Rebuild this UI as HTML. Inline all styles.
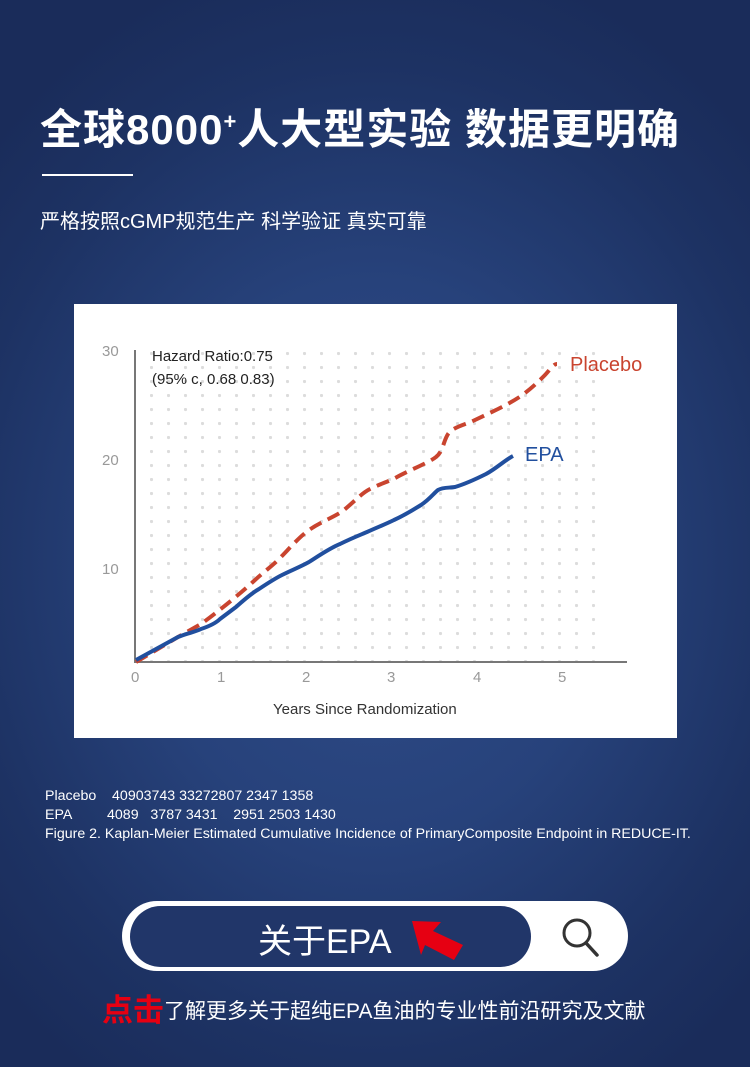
<!DOCTYPE html>
<html><head><meta charset="utf-8"><style>
html,body{margin:0;padding:0}
body{width:750px;height:1067px;position:relative;overflow:hidden;font-family:"Liberation Sans","Noto Sans CJK SC",sans-serif;
background:radial-gradient(ellipse 520px 620px at 375px 560px,#2f4c88 0%,#27427b 45%,#1d3263 80%,#1a2c5a 100%);color:#fff}
.t{position:absolute;left:40px;top:96px;font-size:42px;font-weight:bold;letter-spacing:1px;white-space:nowrap}
.ln{position:absolute;left:42px;top:174px;width:91px;height:2px;background:#fff}
.st{position:absolute;left:40px;top:205px;font-size:20px;white-space:nowrap}
.card{position:absolute;left:74px;top:304px;width:603px;height:434px;background:#fff}
.notes{position:absolute;left:45px;top:787px;font-size:14.2px;line-height:19px;white-space:pre}
.bar{position:absolute;left:122px;top:901px;width:506px;height:70px;border-radius:35px;background:#fff}
.in{position:absolute;left:130px;top:906px;width:401px;height:61px;border-radius:31px;background:#213669}
.bt{position:absolute;left:258px;top:914px;font-size:34px;color:#fff}
.bot{position:absolute;left:102px;top:985px;font-size:21px;white-space:nowrap}
.bot b{color:#e60012;font-size:31px;vertical-align:-3px}
</style></head><body>
<div class="t">全球8000<sup style="font-size:22px">+</sup>人大型实验 数据更明确</div>
<div class="ln"></div>
<div class="st">严格按照cGMP规范生产 科学验证 真实可靠</div>
<div class="card"></div>
<svg style="position:absolute;left:0;top:0" width="750" height="1067">
<defs><pattern id="d" x="150" y="352" width="17" height="14" patternUnits="userSpaceOnUse"><circle cx="1.5" cy="1.5" r="1.6" fill="#dcdcdc"/></pattern></defs>
<rect x="148" y="345" width="460" height="316" fill="url(#d)"/>
<line x1="135" y1="350" x2="135" y2="662" stroke="#777" stroke-width="2"/>
<line x1="134" y1="662" x2="627" y2="662" stroke="#777" stroke-width="2"/>
<g font-family="Liberation Sans,sans-serif" font-size="15" fill="#999">
<text x="102" y="356">30</text><text x="102" y="465">20</text><text x="102" y="574">10</text>
<text x="131" y="682">0</text><text x="217" y="682">1</text><text x="302" y="682">2</text><text x="387" y="682">3</text><text x="473" y="682">4</text><text x="558" y="682">5</text>
</g>
<text x="273" y="714" font-family="Liberation Sans,sans-serif" font-size="15" fill="#333">Years Since Randomization</text>
<text x="152" y="361" font-family="Liberation Sans,sans-serif" font-size="15" fill="#222">Hazard Ratio:0.75</text>
<text x="152" y="384" font-family="Liberation Sans,sans-serif" font-size="15" fill="#222">(95% c, 0.68 0.83)</text>
<path fill="none" stroke="#c9442f" stroke-width="4" stroke-dasharray="13,7" stroke-linejoin="round" d="M136,662 L178,637 L201,624 C215,614 240,594 255,580 C265,571 272,566 278,560 C290,548 298,538 309,530 C322,521 335,517 344,510 C356,500 362,493 370,489 C380,484 390,481 397,477 C410,470 430,462 436,457 C445,450 443,436 452,430 C460,425 467,424 475,420 L498,409 C508,404 515,400 521,396 C532,388 538,382 544,376 C550,370 553,364 557,364"/>
<path fill="none" stroke="#214f9e" stroke-width="4" stroke-linejoin="round" d="M136,660 L178,637 C188,633 195,632 201,629 C210,626 216,623 220,619 C228,613 232,610 236,607 C246,598 252,593 259,589 C268,583 276,578 282,575 C292,570 300,567 309,562 C320,555 330,548 340,544 C352,538 360,535 367,532 C378,527 386,524 394,520 C405,515 413,510 421,505 C430,499 434,493 438,490 C443,487 450,488 455,487 C465,484 476,479 486,474 C497,468 505,460 513,456"/>
<text x="570" y="371" font-family="Liberation Sans,sans-serif" font-size="20" fill="#c9442f">Placebo</text>
<text x="525" y="461" font-family="Liberation Sans,sans-serif" font-size="20" fill="#214f9e">EPA</text>
</svg>
<div class="notes">Placebo    40903743 33272807 2347 1358
EPA         4089   3787 3431    2951 2503 1430
Figure 2. Kaplan-Meier Estimated Cumulative Incidence of PrimaryComposite Endpoint in REDUCE-IT.</div>
<div class="bar"></div>
<div class="in"></div>
<div class="bt">关于EPA</div>
<svg style="position:absolute;left:0;top:0" width="750" height="1067">
<circle cx="577" cy="933" r="13" fill="none" stroke="#333" stroke-width="3"/>
<line x1="586" y1="943" x2="597" y2="955" stroke="#333" stroke-width="3.5" stroke-linecap="round"/>
<polygon points="412,921 441,922 433,931 463,945 454,960 425,945 421,955" fill="#e60012"/>
</svg>
<div class="bot"><b>点击</b>了解更多关于超纯EPA鱼油的专业性前沿研究及文献</div>
</body></html>
